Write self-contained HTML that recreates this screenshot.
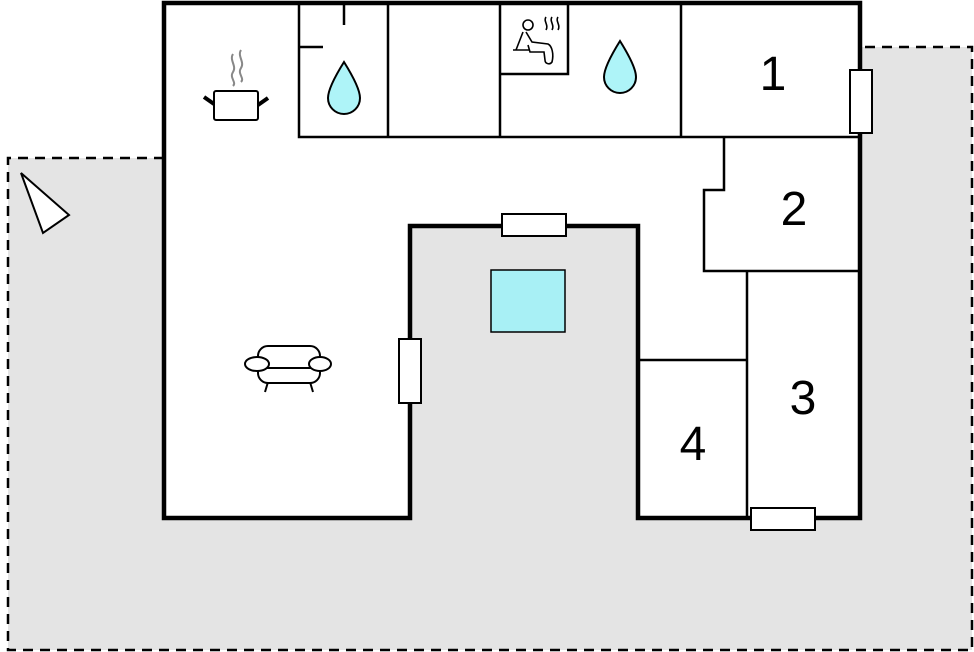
<!DOCTYPE html>
<html><head><style>html,body{margin:0;padding:0;background:#fff;}svg{display:block}</style></head>
<body>
<svg width="974" height="652" viewBox="0 0 974 652" xmlns="http://www.w3.org/2000/svg">
<path d="M8,158 H164 V518 H410 V226 H638 V518 H860 V47 H972 V650 H8 Z" fill="#e4e4e4"/>
<path d="M164,158 H8 V650 H972 V47 H860" fill="none" stroke="#000" stroke-width="2.5" stroke-dasharray="10,7"/>
<path d="M164,3 H860 V518 H638 V226 H410 V518 H164 Z" fill="#fff" stroke="#000" stroke-width="4.5"/>
<g stroke="#000" stroke-width="2.5" fill="none">
<path d="M299,3 V137 H860"/>
<path d="M388,3 V137"/><path d="M500,3 V137"/><path d="M681,3 V137"/>
<path d="M344,3 V25"/><path d="M299,47 H323"/>
<path d="M500,74 H568 V3"/>
<path d="M724,137 V190 H704 V271 H860"/>
<path d="M747,271 V518"/>
<path d="M638,360 H747"/>
</g>
<g stroke="#000" stroke-width="2" fill="#fff">
<rect x="850" y="70" width="22" height="63"/>
<rect x="502" y="214" width="64" height="22"/>
<rect x="399" y="339" width="22" height="64"/>
<rect x="751" y="508" width="64" height="22"/>
</g>
<rect x="491" y="270" width="74" height="62" fill="#a8f0f5" stroke="#000" stroke-width="1.5"/>
<g fill="#aef4f8" stroke="#000" stroke-width="2">
<path d="M344,62 C334,78 328,90 328,98 A16,16 0 0 0 360,98 C360,90 354,78 344,62 Z"/>
<path d="M620,41 C610,57 604,69 604,77 A16,16 0 0 0 636,77 C636,69 630,57 620,41 Z"/>
</g>
<g font-family="Liberation Sans, sans-serif" font-size="48" text-anchor="middle">
<text x="773" y="90">1</text><text x="794" y="225">2</text>
<text x="803" y="414">3</text><text x="693" y="460">4</text>
</g>
<path d="M21,173 L43,233 L69,215 Z" fill="#fff" stroke="#000" stroke-width="2"/>
<!-- pot -->
<g stroke="#000" stroke-width="2" fill="#fff">
<rect x="214" y="91" width="44" height="29" rx="2"/>
<path d="M204,97 L214,104 M268,98 L258,105" stroke-width="4" fill="none"/>
</g>
<g stroke="#888" stroke-width="2" fill="none">
<path d="M233,54 C229,60 237,66 233,72 C229,78 237,82 233,86"/>
<path d="M241,50 C237,56 245,62 241,68 C237,74 245,78 241,82"/>
</g>
<!-- sauna person -->
<g stroke="#000" stroke-width="1.6" fill="none">
<circle cx="528" cy="25" r="5"/>
<path d="M523,32 L516,50 M526,32 L532,42 L548,44 C552,46 554,54 552,62 C550,65 545,64 545,60 L544,52 L530,52 L528,45"/>
<path d="M513,50 H530"/>
<path d="M546,17 C543,21 549,25 546,30 M552,17 C549,21 555,25 552,30 M558,17 C555,21 561,25 558,30"/>
</g>
<!-- sofa -->
<g stroke="#000" stroke-width="2" fill="#fff">
<path d="M268,382 L265,392 M310,382 L313,392" fill="none"/>
<rect x="258" y="346" width="62" height="37" rx="10"/>
<path d="M265,368 H313" fill="none"/>
<ellipse cx="257" cy="364" rx="12" ry="7"/>
<ellipse cx="320" cy="364" rx="11" ry="7"/>
</g>
</svg>
</body></html>
